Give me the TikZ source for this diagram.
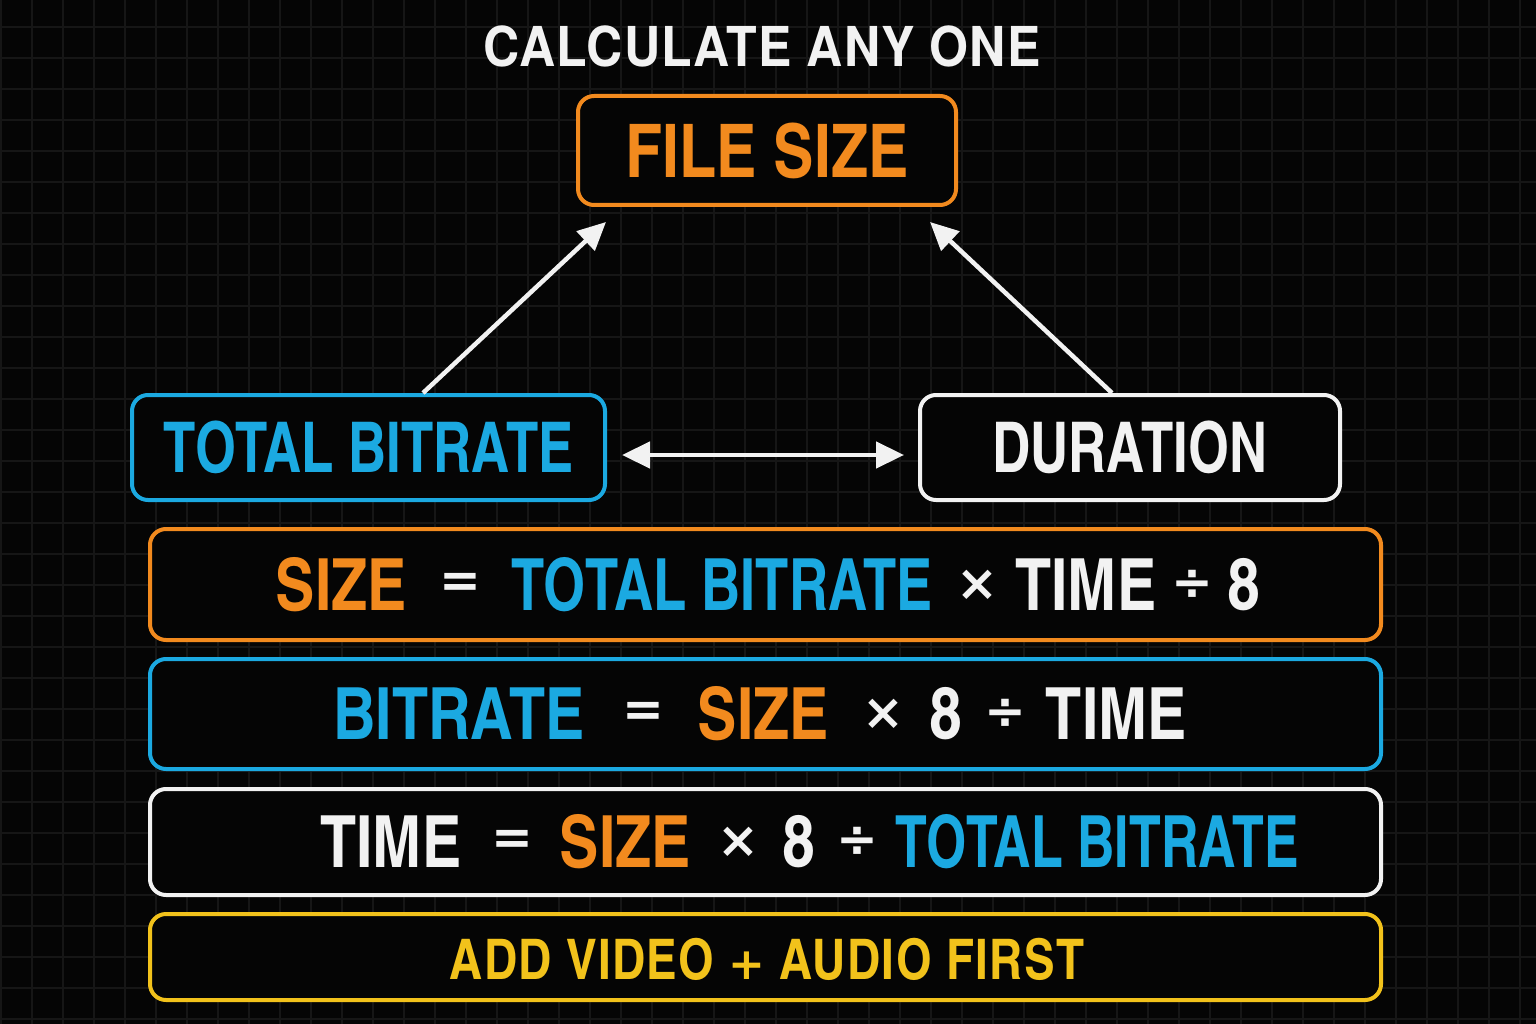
\documentclass[tikz,border=0pt]{standalone}
\usepackage{fontspec}
\setmainfont{texgyreheroscn}[Extension=.otf, UprightFont=*-bold, BoldFont=*-bold]
\newfontfamily\narrowfont{texgyreheroscn}[Extension=.otf, UprightFont=*-bold, FakeStretch=0.92]
\newfontfamily\narrowerfont{texgyreheroscn}[Extension=.otf, UprightFont=*-bold, FakeStretch=0.88]
\newfontfamily\spacedfont{texgyreheroscn}[Extension=.otf, UprightFont=*-bold, LetterSpace=2.5]
\newfontfamily\titlefont{texgyreheros}[Extension=.otf, UprightFont=*-bold, FakeStretch=0.91, LetterSpace=2]
\newfontfamily\opfont{DejaVu Sans Bold}
\usetikzlibrary{arrows.meta}
\definecolor{bgc}{HTML}{050505}
\definecolor{gridc}{HTML}{161616}
\definecolor{orng}{HTML}{F28A1E}
\definecolor{blu}{HTML}{1BA9E1}
\definecolor{wht}{HTML}{F2F2F2}
\definecolor{yel}{HTML}{F2C21B}
\tikzset{
  box/.style={draw, line width=4pt, rounded corners=16pt, fill=bgc, inner sep=0pt},
  word/.style={inner sep=0pt, font=\fontsize{72}{72}\selectfont},
  nword/.style={inner sep=0pt, font=\narrowfont\fontsize{72}{72}\selectfont},
  op/.style={inner sep=0pt, text=wht, font=\opfont\fontsize{50}{50}\selectfont},
  arr/.style={draw=wht, line width=4.5pt, -{Triangle[length=28pt,width=26pt]}},
  darr/.style={draw=wht, line width=4.5pt, {Triangle[length=28pt,width=26pt]}-{Triangle[length=28pt,width=26pt]}}
}
\begin{document}
\begin{tikzpicture}[x=1pt,y=-1pt]
\useasboundingbox (0,0) rectangle (1536,1024);
\fill[bgc] (0,0) rectangle (1536,1024);
\foreach \gx in {1,32,...,1536} \draw[gridc, line width=1.3pt] (\gx,0) -- (\gx,1024);
\foreach \gy in {-4,27,...,1024} \draw[gridc, line width=1.3pt] (0,\gy) -- (1536,\gy);

\node[inner sep=0pt, text=wht, font=\titlefont\fontsize{55}{55}\selectfont] (title) at (762,46) {CALCULATE ANY ONE};

\node[box, draw=orng, text=orng, minimum width=378pt, minimum height=109pt, font=\fontsize{74}{74}\selectfont] (fs) at (767,150.5) {FILE SIZE};
\node[box, draw=blu, text=blu, minimum width=473pt, minimum height=105pt, font=\narrowfont\fontsize{70}{70}\selectfont] (tb) at (368.5,447.5) {TOTAL BITRATE};
\node[box, draw=wht, text=wht, minimum width=420pt, minimum height=105pt, font=\narrowfont\fontsize{70}{70}\selectfont] (dur) at (1130,447.5) {DURATION};

\draw[arr] ([xshift=54.5pt]tb.north) -- ([xshift=30pt,yshift=-15pt]fs.south west);
\draw[arr] ([xshift=-18pt]dur.north) -- ([xshift=-28pt,yshift=-15pt]fs.south east);
\draw[darr] ([xshift=15pt,yshift=-7.5pt]tb.east) -- ([xshift=-14pt,yshift=-7.5pt]dur.west);

% row 1
\node[box, draw=orng, minimum width=1231pt, minimum height=111pt] (r1) at (765.5,584.5) {};
\node[word, text=orng] (r1a) at (341.5,585) {SIZE};
\node[op] (r1b) at (460,585) {=};
\node[nword, text=blu] (r1c) at (722,585) {TOTAL BITRATE};
\node[op] (r1d) at (977,585) {×};
\node[word, text=wht] (r1e) at (1086,585) {TIME};
\node[op] (r1f) at (1192,585) {÷};
\node[word, text=wht] (r1g) at (1244,585) {8};

% row 2
\node[box, draw=blu, minimum width=1231pt, minimum height=110pt] (r2) at (765.5,714) {};
\node[word, text=blu] (r2a) at (459,714) {BITRATE};
\node[op] (r2b) at (643,714) {=};
\node[word, text=orng] (r2c) at (763.5,714) {SIZE};
\node[op] (r2d) at (883,714) {×};
\node[word, text=wht] (r2e) at (946,714) {8};
\node[op] (r2f) at (1005,714) {÷};
\node[word, text=wht] (r2g) at (1116.5,714) {TIME};

% row 3
\node[box, draw=wht, minimum width=1231pt, minimum height=106pt] (r3) at (765.5,842) {};
\node[word, text=wht] (r3a) at (391,842) {TIME};
\node[op] (r3b) at (512,842) {=};
\node[word, text=orng] (r3c) at (625.5,842) {SIZE};
\node[op] (r3d) at (738,842) {×};
\node[word, text=wht] (r3e) at (799,842) {8};
\node[op] (r3f) at (857,842) {÷};
\node[inner sep=0pt, text=blu, font=\narrowerfont\fontsize{72}{72}\selectfont] (r3g) at (1097,842) {TOTAL BITRATE};

% row 4
\node[box, draw=yel, minimum width=1231pt, minimum height=86pt] (r4) at (765.5,957) {};
\node[inner sep=0pt, text=yel, font=\spacedfont\fontsize{56}{56}\selectfont] (r4t) at (767,959) {ADD VIDEO {\opfont\fontsize{44}{44}\selectfont +} AUDIO FIRST};
\end{tikzpicture}
\end{document}
